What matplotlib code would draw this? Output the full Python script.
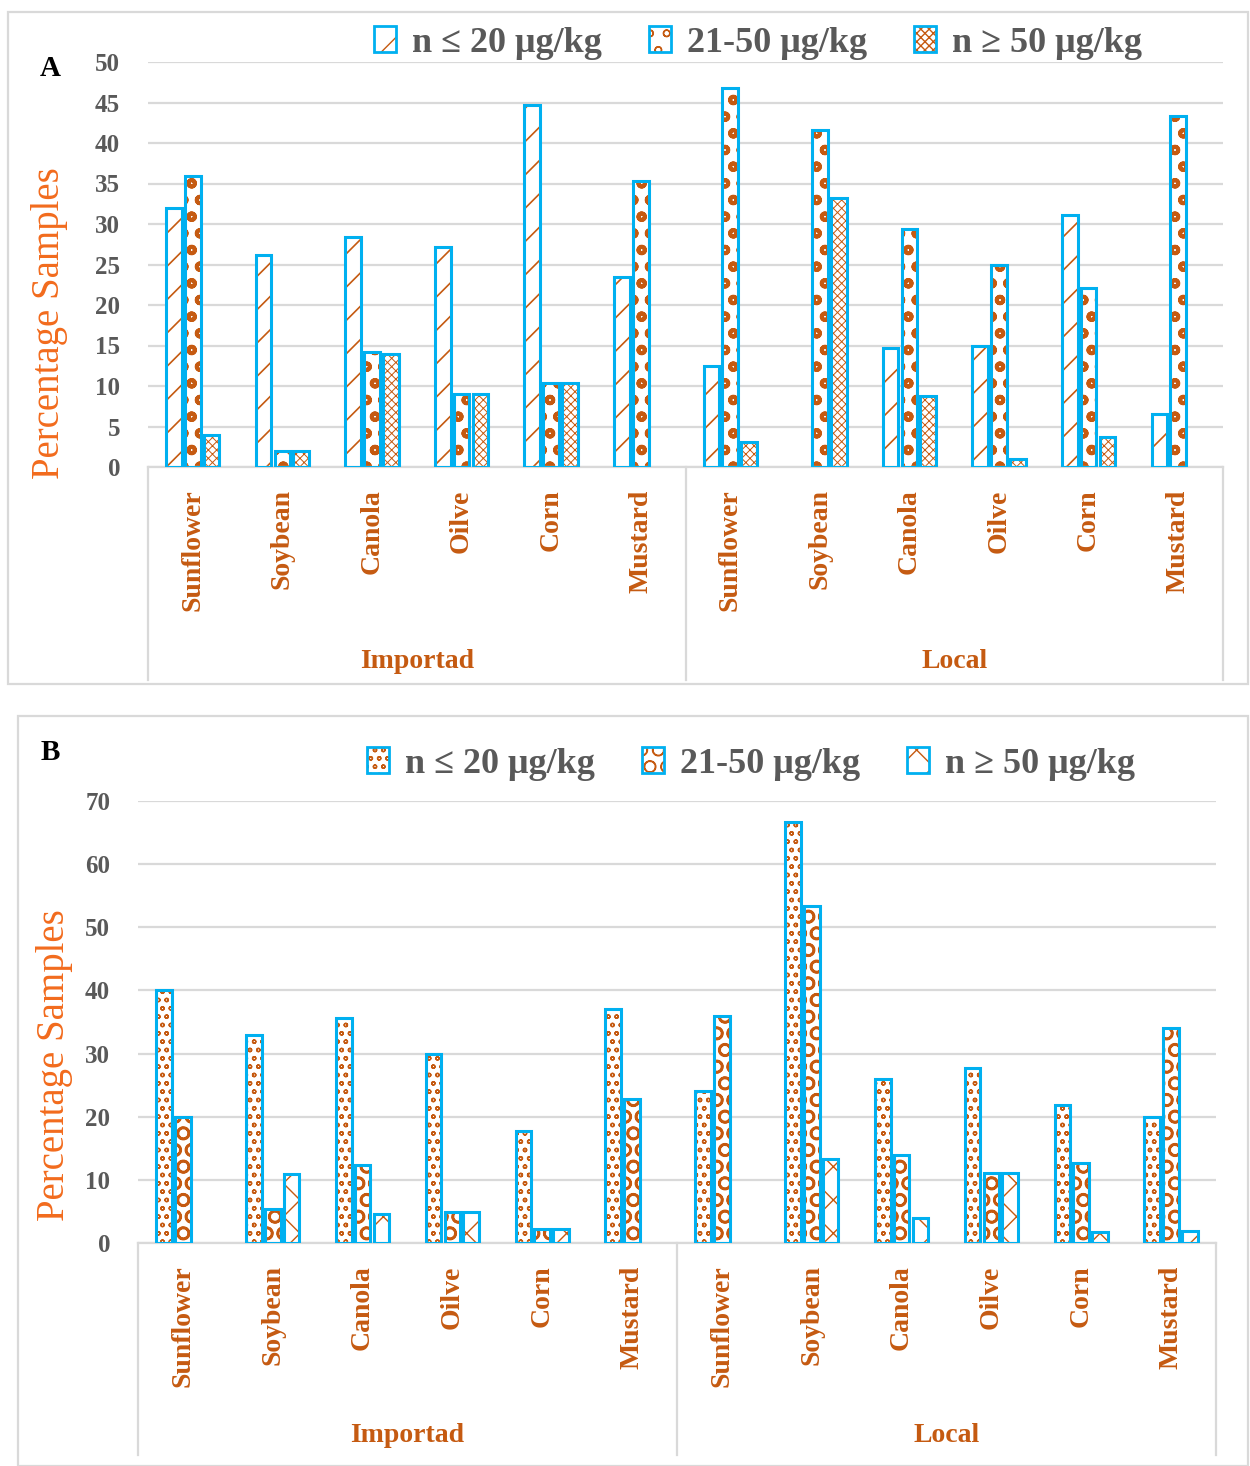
import numpy as np
import matplotlib
matplotlib.use('Agg')
import matplotlib.pyplot as plt
from matplotlib.patches import Rectangle, Patch
from matplotlib.transforms import blended_transform_factory

# data
categories = ['Sunflower', 'Soybean', 'Canola', 'Oilve', 'Corn', 'Mustard'] * 2
groups = ['Importad', 'Local']
series = ['n ≤ 20 μg/kg', '21-50 μg/kg', 'n ≥ 50 μg/kg']

# panel A
a_low = [32.0, 26.2, 28.4, 27.2, 44.7, 23.5, 12.5, 0.0, 14.7, 14.9, 31.1, 6.5]
a_mid = [35.9, 2.0, 14.2, 9.0, 10.4, 35.3, 46.8, 41.6, 29.4, 25.0, 22.1, 43.3]
a_high = [4.0, 2.0, 14.0, 9.0, 10.4, 0.0, 3.1, 33.2, 8.8, 1.0, 3.7, 0.0]

# panel B
b_low = [40.0, 32.9, 35.6, 30.0, 17.7, 37.1, 24.1, 66.7, 26.0, 27.7, 21.9, 20.0]
b_mid = [20.0, 5.4, 12.4, 4.9, 2.2, 22.8, 36.0, 53.4, 13.9, 11.1, 12.7, 34.0]
b_high = [0.0, 10.9, 4.6, 4.9, 2.2, 0.0, 0.0, 13.3, 4.0, 11.1, 1.7, 1.9]

CYAN = '#00B0F0'
BROWN = '#C55A11'
ORANGE = '#F26B1D'
GRID = '#D9D9D9'
TXT = '#595959'
FONT = ['Liberation Serif', 'DejaVu Serif']

plt.rcParams['font.family'] = FONT

W, H = 1250, 1466
fig = plt.figure(figsize=(W / 100, H / 100), dpi=100)


def fx(px):
    return px / W


def fy(px):
    return 1 - px / H


def panel(rect, data, hatches, hlw, ymax, ystep, sep_bottom, legend_y, legend_x):
    x0, y0, x1, y1 = rect
    ax = fig.add_axes([fx(x0), fy(y1), fx(x1 - x0), (y1 - y0) / H])
    x = np.arange(len(categories))
    w = 0.175
    pitch = 0.21
    handles = []
    for j, vals in enumerate(data):
        pos = x + (j - 1) * pitch
        edge_lw = [2.2 if v > 0 else 0 for v in vals]
        with plt.rc_context({'hatch.linewidth': hlw[j]}):
            ax.bar(pos, vals, w, color='white', edgecolor=BROWN, hatch=hatches[j], linewidth=0, zorder=2)
            hp = Patch(facecolor='white', edgecolor=BROWN, hatch=hatches[j], linewidth=0)
        ax.bar(pos, vals, w, fill=False, edgecolor=CYAN, linewidth=edge_lw, zorder=3)
        handles.append((hp, Patch(fill=False, edgecolor=CYAN, linewidth=2.0)))
    ax.set_xlim(-0.5, len(categories) - 0.5)
    ax.set_ylim(0, ymax)
    ax.set_yticks(np.arange(0, ymax + 1, ystep))
    ax.yaxis.grid(True, color=GRID, linewidth=1.6, zorder=0)
    ax.set_axisbelow(True)
    for s in ['top', 'right', 'left']:
        ax.spines[s].set_visible(False)
    ax.spines['bottom'].set_color(GRID)
    ax.spines['bottom'].set_linewidth(1.6)
    ax.tick_params(axis='y', length=0, pad=20, labelsize=18, labelcolor=TXT)
    for t in ax.get_yticklabels():
        t.set_fontweight('bold')
    ax.set_xticks(x)
    ax.set_xticklabels(categories, rotation=90, fontsize=20, fontweight='bold', color=BROWN)
    ax.tick_params(axis='x', length=0, pad=16)

    # multi-level category separators and group names
    tr = blended_transform_factory(ax.transData, ax.transAxes)
    ybot = -(sep_bottom - y1) / (y1 - y0)
    for xs in [-0.5, 5.5, 11.5]:
        ax.plot([xs, xs], [0, ybot], color=GRID, linewidth=1.6, transform=tr, clip_on=False)
    for k, g in enumerate(groups):
        ax.text(2.5 + 6 * k, ybot + 0.045, g, transform=tr, ha='center', va='center',
                fontsize=20, fontweight='bold', color=BROWN)

    fig.legend(handles, series, loc='center', bbox_to_anchor=(fx(legend_x), fy(legend_y)), ncol=3,
               frameon=False, handlelength=0.6, handleheight=0.7, handletextpad=0.45,
               columnspacing=1.3, prop={'family': FONT, 'size': 26, 'weight': 'bold'},
               labelcolor=TXT)
    return ax


panel((148, 62, 1223, 467), [a_low, a_mid, a_high], ['/', 'o', 'xxxx'], [1.2, 2.8, 0.7],
      50, 5, 680, 43, 758)
panel((138, 801, 1216, 1243), [b_low, b_mid, b_high], ['oo', 'O', 'x'], [1.0, 1.8, 1.0],
      70, 10, 1455, 764, 751)

# panel frames and labels
fig.add_artist(Rectangle((fx(8), fy(684)), fx(1240), 672 / H, fill=False,
                         edgecolor=GRID, linewidth=1.6, transform=fig.transFigure))
fig.add_artist(Rectangle((fx(18), fy(1466)), fx(1230), 750 / H, fill=False,
                         edgecolor=GRID, linewidth=1.6, transform=fig.transFigure))
fig.text(fx(50), fy(68), 'A', fontsize=21, fontweight='bold', ha='center', va='center')
fig.text(fx(50), fy(752), 'B', fontsize=21, fontweight='bold', ha='center', va='center')
fig.text(fx(50), fy(323), 'Percentage Samples', rotation=90, fontsize=28,
         color=ORANGE, ha='center', va='center')
fig.text(fx(55), fy(1065), 'Percentage Samples', rotation=90, fontsize=28,
         color=ORANGE, ha='center', va='center')

fig.savefig('out.png', dpi=100)
